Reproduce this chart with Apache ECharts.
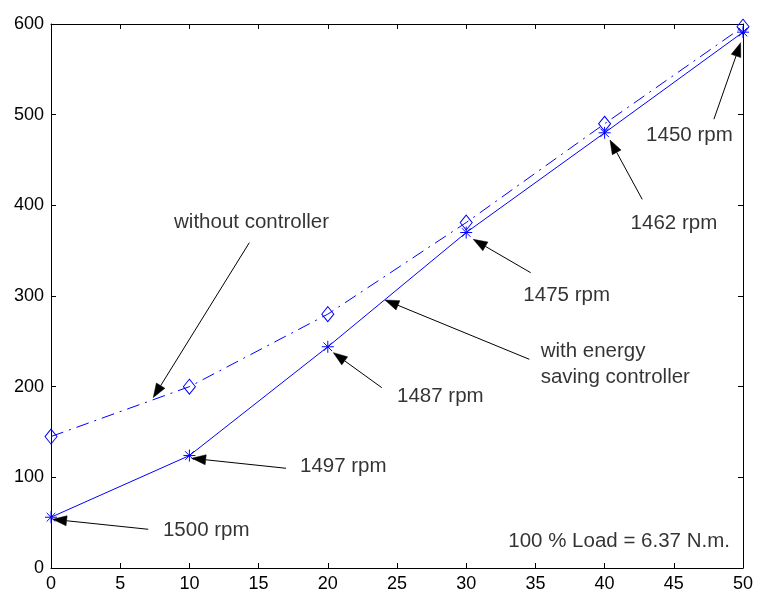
<!DOCTYPE html>
<html>
<head>
<meta charset="utf-8">
<script src="https://cdn.jsdelivr.net/npm/echarts@6/dist/echarts.min.js"></script>
<style>
  html, body { margin: 0; padding: 0; background: #fff; }
  #chart { width: 759px; height: 597px; }
</style>
</head>
<body>
<div id="chart"></div>
<script>
// Load percentage on the x axis
const loadPct = [0, 10, 20, 30, 40, 50];
// Input power with the energy saving controller
const withController = [56, 124, 244, 370, 480, 591];
// Input power without the controller
const withoutController = [145, 200, 280, 381, 490, 597];

const xTicks = [0, 5, 10, 15, 20, 25, 30, 35, 40, 45, 50];
const yTicks = [0, 100, 200, 300, 400, 500, 600];

// Callouts: label text, label anchor, arrow tail and arrow tip (data units)
const callouts = [
  { text: '1500 rpm', at: [8.09, 42], tail: [7.03, 42.7], tip: [0.12, 53.7] },
  { text: '1497 rpm', at: [17.99, 112.5], tail: [16.98, 110], tip: [10.17, 121] },
  { text: '1487 rpm', at: [25.0, 189], tail: [23.9, 198.9], tip: [20.4, 237.5] },
  { text: 'with energy\nsaving controller', at: [35.38, 225], tail: [34.56, 230.2], tip: [24.13, 295.6] },
  { text: '1475 rpm', at: [34.13, 300.3], tail: [34.66, 325.7], tip: [30.51, 362.5] },
  { text: '1462 rpm', at: [41.88, 380.2], tail: [42.72, 406.6], tip: [40.39, 472] },
  { text: '1450 rpm', at: [43.0, 477.6], tail: [47.9, 495], tip: [49.83, 579.4] },
  { text: 'without controller', at: [8.89, 380.8], tail: [14.33, 358.8], tip: [7.39, 188] }
];
const loadNote = { text: '100 % Load = 6.37 N.m.', at: [33.04, 29] };

const FONT = 'Liberation Sans, Arial, sans-serif';
const BLUE = '#0000ff';
const ASTERISK = 'path://M0,-6L0,6M-6,0L6,0M-4.3,-4.3L4.3,4.3M-4.3,4.3L4.3,-4.3';
const HEAD_LEN = 14;
const HEAD_HALF = 5;

const pairs = (xs, ys) => xs.map((x, i) => [x, ys[i]]);

function axisCommon(extra) {
  return Object.assign({
    type: 'value',
    axisLine: { show: true, onZero: false, lineStyle: { color: '#000', width: 1 } },
    axisTick: { show: true, inside: true, length: 5, lineStyle: { color: '#000', width: 1 } },
    splitLine: { show: false }
  }, extra);
}

const labelPoints = callouts.concat([loadNote]).map(c => ({
  value: c.at,
  label: { formatter: c.text }
}));

const arrowData = callouts.map(c => [c.tail[0], c.tail[1], c.tip[0], c.tip[1]]);

// Arrow: a thin shaft from tail to the base of a filled triangular head
function renderArrow(params, api) {
  const p0 = api.coord([api.value(0), api.value(1)]);
  const p1 = api.coord([api.value(2), api.value(3)]);
  const dx = p1[0] - p0[0], dy = p1[1] - p0[1];
  const len = Math.sqrt(dx * dx + dy * dy) || 1;
  const ux = dx / len, uy = dy / len;
  const bx = p1[0] - ux * HEAD_LEN, by = p1[1] - uy * HEAD_LEN;
  const nx = -uy * HEAD_HALF, ny = ux * HEAD_HALF;
  return {
    type: 'group',
    children: [
      { type: 'line', shape: { x1: p0[0], y1: p0[1], x2: bx, y2: by },
        style: { stroke: '#000', lineWidth: 1 } },
      { type: 'polygon', shape: { points: [[p1[0], p1[1]], [bx + nx, by + ny], [bx - nx, by - ny]] },
        style: { fill: '#000', stroke: '#000', lineWidth: 0.5 } }
    ]
  };
}

const option = {
  backgroundColor: '#ffffff',
  animation: false,
  grid: { left: 51, right: 16, top: 24, bottom: 29, containLabel: false },
  xAxis: [
    axisCommon({
      min: 0, max: 50, interval: 5, position: 'bottom',
      axisLabel: { color: '#000', fontFamily: FONT, fontSize: 18, margin: 7,
        formatter: v => (xTicks.includes(v) ? String(v) : '') }
    }),
    axisCommon({ min: 0, max: 50, interval: 5, position: 'top', axisLabel: { show: false } })
  ],
  yAxis: [
    axisCommon({
      min: 0, max: 600, interval: 100, position: 'left',
      axisLabel: { color: '#000', fontFamily: FONT, fontSize: 18, margin: 7,
        formatter: v => (yTicks.includes(v) ? String(v) : '') }
    }),
    axisCommon({ min: 0, max: 600, interval: 100, position: 'right', axisLabel: { show: false } })
  ],
  series: [
    {
      name: 'without controller',
      type: 'line',
      data: pairs(loadPct, withoutController),
      symbol: 'diamond',
      symbolSize: [12, 15],
      showAllSymbol: true,
      itemStyle: { color: 'rgba(0,0,0,0)', borderColor: BLUE, borderWidth: 1 },
      lineStyle: { color: BLUE, width: 1, type: [13, 6, 2, 6] },
      z: 3
    },
    {
      name: 'with energy saving controller',
      type: 'line',
      data: pairs(loadPct, withController),
      symbol: ASTERISK,
      symbolSize: 12,
      itemStyle: { color: 'rgba(0,0,0,0)', borderColor: BLUE, borderWidth: 1 },
      lineStyle: { color: BLUE, width: 1 },
      z: 3
    },
    {
      name: 'arrows',
      type: 'custom',
      data: arrowData,
      renderItem: renderArrow,
      silent: true,
      clip: false,
      z: 4
    },
    {
      name: 'callouts',
      type: 'scatter',
      data: labelPoints,
      symbolSize: 0,
      silent: true,
      label: {
        show: true, position: 'right', distance: 0,
        color: '#000', fontFamily: FONT, fontSize: 20.5, lineHeight: 26,
        align: 'left', verticalAlign: 'middle'
      },
      z: 4
    }
  ]
};

const chart = echarts.init(document.getElementById('chart'), null, { renderer: 'canvas' });
chart.setOption(option);
</script>
</body>
</html>
